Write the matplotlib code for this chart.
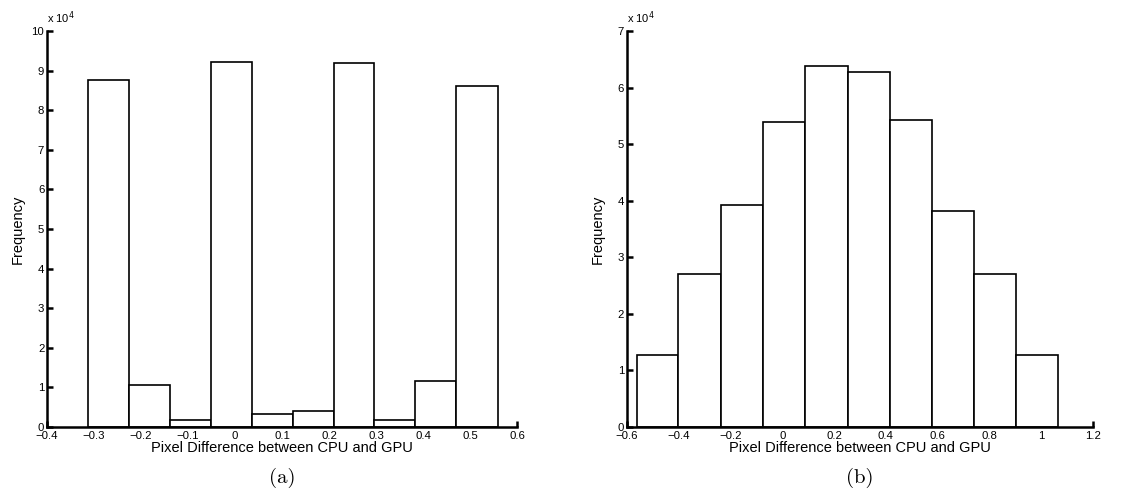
import matplotlib
matplotlib.use("Agg")
import matplotlib.pyplot as plt
import numpy as np

# Panel (a)
edges_a = [-0.312, -0.225, -0.138, -0.051, 0.0355, 0.123, 0.210, 0.296, 0.384, 0.470, 0.559]
counts_a = [8.76, 1.05, 0.18, 9.21, 0.33, 0.40, 9.19, 0.17, 1.16, 8.61]  # x 10^4
xticks_a = [-0.4, -0.3, -0.2, -0.1, 0, 0.1, 0.2, 0.3, 0.4, 0.5, 0.6]
xticklabels_a = ["\u22120.4", "\u22120.3", "\u22120.2", "\u22120.1", "0", "0.1", "0.2", "0.3", "0.4", "0.5", "0.6"]
yticks_a = list(range(0, 11))

# Panel (b)
edges_b = [-0.5625, -0.402, -0.237, -0.075, 0.089, 0.2525, 0.415, 0.578, 0.741, 0.9025, 1.066]
counts_b = [1.28, 2.71, 3.92, 5.40, 6.38, 6.28, 5.42, 3.81, 2.71, 1.27]  # x 10^4
xticks_b = [-0.6, -0.4, -0.2, 0, 0.2, 0.4, 0.6, 0.8, 1, 1.2]
xticklabels_b = ["\u22120.6", "\u22120.4", "\u22120.2", "0", "0.2", "0.4", "0.6", "0.8", "1", "1.2"]
yticks_b = list(range(0, 8))

xlabel = "Pixel Difference between CPU and GPU"
ylabel = "Frequency"
captions = ["(a)", "(b)"]

plt.rcParams['font.family'] = ['Liberation Sans', 'DejaVu Sans']

fig = plt.figure(figsize=(11.42, 4.97), dpi=100)
ax_a = fig.add_axes([0.0412, 0.1409, 0.4115, 0.7967])
ax_b = fig.add_axes([0.549, 0.1409, 0.408, 0.7967])

def style(ax, edges, counts, xticks, xticklabels, yticks, xlim, ylim, caption):
    e = np.array(edges)
    ax.bar(e[:-1], counts, width=np.diff(e), align='edge', facecolor='white',
           edgecolor='black', linewidth=1.2, zorder=2)
    ax.set_xlim(*xlim)
    ax.set_ylim(*ylim)
    ax.set_xticks(xticks)
    ax.set_xticklabels(xticklabels)
    ax.set_yticks(yticks)
    ax.set_yticklabels([str(v) for v in yticks])
    for s in ['top', 'right']:
        ax.spines[s].set_visible(False)
    for s in ['left', 'bottom']:
        ax.spines[s].set_linewidth(1.8)
    ax.tick_params(direction='in', length=4, width=1.8, labelsize=8.2)
    ax.tick_params(axis='x', pad=3)
    ax.tick_params(axis='y', pad=2)
    ax.set_xlabel(xlabel, fontsize=10.5, labelpad=0)
    lab = ax.set_ylabel(ylabel, fontsize=10.5)
    pos = ax.get_position()
    w_px = pos.width * fig.get_figwidth() * fig.dpi
    ax.yaxis.set_label_coords(-29.5 / w_px, 0.5)
    lab.set_verticalalignment('center')
    ax.text(0.0, 1.012, r"x 10$^{4}$", transform=ax.transAxes, fontsize=8,
            ha='left', va='bottom')
    fig.text((pos.x0 + pos.x1) / 2, 0.038, caption, fontsize=15,
             family='cmr10', ha='center', va='center')

style(ax_a, edges_a, counts_a, xticks_a, xticklabels_a, yticks_a, (-0.4, 0.6), (0, 10), captions[0])
style(ax_b, edges_b, counts_b, xticks_b, xticklabels_b, yticks_b, (-0.6, 1.2), (0, 7), captions[1])

fig.savefig("out.png", dpi=100)
